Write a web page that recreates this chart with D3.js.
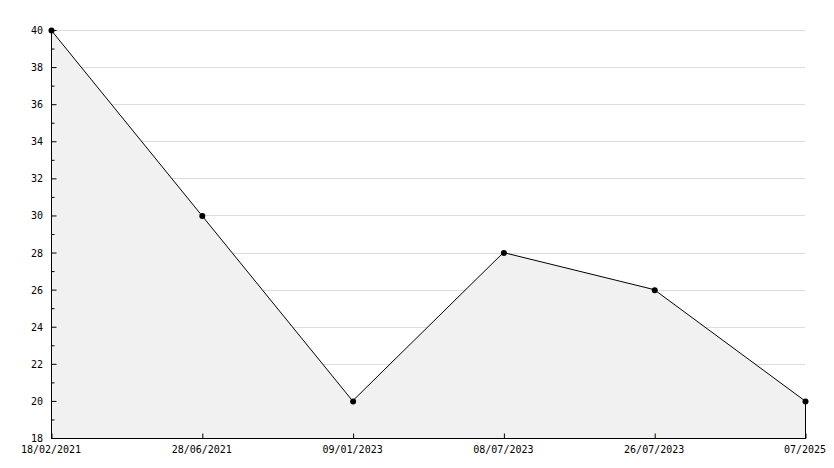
<!DOCTYPE html>
<html><head><meta charset="utf-8">
<script src="https://cdn.jsdelivr.net/npm/d3@7"></script>
<style>html,body{margin:0;padding:0;background:#fff;}svg{display:block;}</style>
</head><body>
<svg id="chart" width="834" height="468"></svg>
<script>
const categories = ["18/02/2021","28/06/2021","09/01/2023","08/07/2023","26/07/2023","07/2025"];
const values = [40, 30, 20, 28, 26, 20];
const yMajorTicks = [18,20,22,24,26,28,30,32,34,36,38,40];
const yMinorTicks = [19,21,23,25,27,29,31,33,35,37,39];

(function(){
const svg = d3.select("#chart");
const pLeft = 51, pRight = 805, pTop = 30, pBottom = 438;
const font = "'DejaVu Sans Mono', monospace";

const x = d3.scalePoint().domain(categories).range([pLeft, pRight]);
const y = d3.scaleLinear().domain([18, 40]).range([pBottom, pTop]);

// gridlines
svg.append("g").selectAll("line").data(yMajorTicks.filter(d => d > 18)).join("line")
  .attr("x1", pLeft).attr("x2", pRight)
  .attr("y1", d => Math.round(y(d)) + 0.5).attr("y2", d => Math.round(y(d)) + 0.5)
  .attr("stroke", "#dcdcdc").attr("stroke-width", 1);

const data = categories.map((c, i) => ({c, v: values[i]}));

// area
const area = d3.area().x(d => x(d.c)).y0(pBottom).y1(d => y(d.v));
svg.append("path").datum(data).attr("d", area)
  .attr("fill", "#f1f1f1").attr("stroke", "none");
// right edge of area
svg.append("line").attr("x1", pRight + 0.5).attr("x2", pRight + 0.5)
  .attr("y1", y(values[values.length-1])).attr("y2", pBottom)
  .attr("stroke", "#000").attr("stroke-width", 1);

// line
const line = d3.line().x(d => x(d.c)).y(d => y(d.v));
svg.append("path").datum(data).attr("d", line)
  .attr("fill", "none").attr("stroke", "#000").attr("stroke-width", 1);

// y axis
const yAxis = d3.axisRight(y).tickValues(yMajorTicks).tickSize(5).tickFormat("");
const gy = svg.append("g").attr("transform", `translate(${pLeft + 0.5},0)`).call(yAxis);
gy.select(".domain").remove();
gy.selectAll(".tick line").attr("stroke", "#000");
const yAxisMinor = d3.axisRight(y).tickValues(yMinorTicks).tickSize(3).tickFormat("");
const gy2 = svg.append("g").attr("transform", `translate(${pLeft + 0.5},0)`).call(yAxisMinor);
gy2.select(".domain").remove();
gy2.selectAll(".tick line").attr("stroke", "#000");
svg.append("line").attr("x1", pLeft + 0.5).attr("x2", pLeft + 0.5).attr("y1", pTop).attr("y2", pBottom + 0.5)
  .attr("stroke", "#000");
svg.append("g").selectAll("text").data(yMajorTicks).join("text")
  .attr("x", 43).attr("y", d => y(d) + 4)
  .attr("text-anchor", "end").attr("font-family", font).attr("font-size", 10).attr("fill", "#000")
  .text(d => d);

// x axis
const xAxis = d3.axisTop(x).tickSize(5).tickFormat("");
const gx = svg.append("g").attr("transform", `translate(0,${pBottom + 0.5})`).call(xAxis);
gx.select(".domain").remove();
gx.selectAll(".tick line").attr("stroke", "#000").attr("transform", "translate(0.5,0)");
svg.append("line").attr("x1", pLeft).attr("x2", pRight + 1).attr("y1", pBottom + 0.5).attr("y2", pBottom + 0.5)
  .attr("stroke", "#000");
svg.append("g").selectAll("text").data(categories).join("text")
  .attr("x", d => x(d)).attr("y", 453)
  .attr("text-anchor", "middle").attr("font-family", font).attr("font-size", 10).attr("fill", "#000")
  .text(d => d);

// markers
svg.append("g").selectAll("circle").data(data).join("circle")
  .attr("cx", d => x(d.c) + 0.5).attr("cy", d => y(d.v) + 0.5).attr("r", 3)
  .attr("fill", "#000");
})();
</script>
</body></html>
